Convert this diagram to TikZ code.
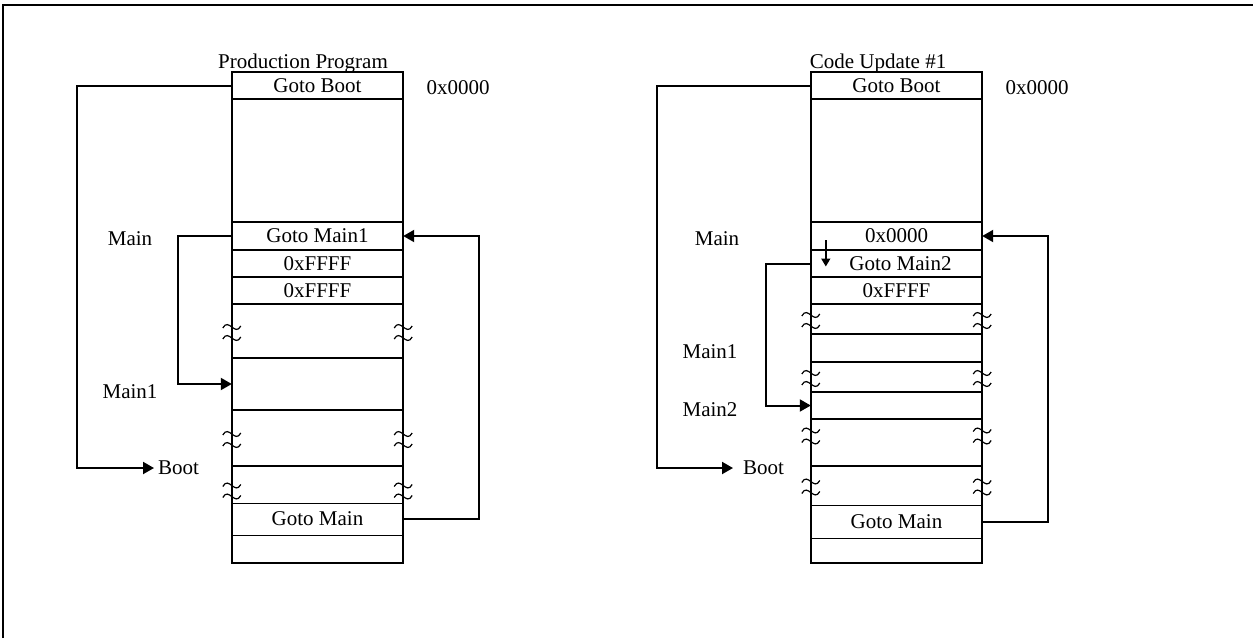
\documentclass[tikz,border=0pt]{standalone}
\usepackage{fontspec}
\setmainfont{Liberation Serif}
\usetikzlibrary{positioning, arrows.meta, calc}

\tikzset{
  cell/.style={minimum width=171pt, inner sep=0pt, font=\fontsize{21}{24}\selectfont},
  lbl/.style={inner sep=0pt, font=\fontsize{21}{24}\selectfont},
  wall/.style={line width=2.4pt},
  hair/.style={line width=1pt},
  jump/.style={line width=2pt, -{Triangle[length=11pt,width=12pt]}},
  nudge/.style={line width=1.6pt, -{Triangle[length=8pt,width=9pt]}},
  brk/.pic={
    \draw[line width=1.2pt] (-9,-3) .. controls (-3,-14) and (3,6) .. (9,-5);
    \draw[line width=1.2pt] (-9,8) .. controls (-3,-3) and (3,17) .. (9,6);
  }
}

\begin{document}
\begin{tikzpicture}[x=1pt, y=-1pt]
\useasboundingbox (0,0) rectangle (1253,638);
\draw[line width=2pt] (3,638) -- (3,5) -- (1253,5);

% production program
\node[lbl] (pTitle) at (303,63) {Production Program};
\node[cell, minimum height=27pt] (pBoot) at (317.5,85.5) {Goto Boot};
\node[cell, minimum height=123pt] (pGap) at (317.5,160.5) {};
\node[cell, minimum height=28pt] (pMain) at (317.5,236) {Goto Main1};
\node[cell, minimum height=27pt] (pF1) at (317.5,263.5) {0xFFFF};
\node[cell, minimum height=27pt] (pF2) at (317.5,290.5) {0xFFFF};
\node[cell, minimum height=54pt] (pB1) at (317.5,331) {};
\node[cell, minimum height=52pt] (pMainA) at (317.5,384) {};
\node[cell, minimum height=56pt] (pB2) at (317.5,438) {};
\node[cell, minimum height=37pt] (pB3) at (317.5,484.5) {};
\node[cell, minimum height=32pt] (pGoMain) at (317.5,519) {Goto Main};
\node[cell, minimum height=28pt] (pEnd) at (317.5,549) {};

\node[lbl] (pAddr) at (458,88) {0x0000};
\node[lbl] (pLMain) at (130,239) {Main};
\node[lbl] (pLMain1) at (130,392) {Main1};
\node[lbl, anchor=west, inner xsep=4pt] (pLBoot) at (154,468) {Boot};

\draw[wall] (pBoot.north west) rectangle (pEnd.south east);
\foreach \r in {pBoot,pGap,pMain,pF1,pF2,pB1,pMainA,pB2}
  \draw[wall] (\r.south west) -- (\r.south east);
\foreach \r in {pB3,pGoMain}
  \draw[hair] (\r.south west) -- (\r.south east);
\foreach \r in {pB1,pB2}
  {\pic at (\r.west) {brk}; \pic at (\r.east) {brk};}
\pic at ($(pB3.west)+(0,5)$) {brk};
\pic at ($(pB3.east)+(0,5)$) {brk};

\draw[jump] (pBoot.west) -- ++(-155,0) |- (pLBoot.west);
\draw[jump] (pMain.west) -- ++(-54,0) |- (pMainA.west);
\draw[jump] (pGoMain.east) -- ++(76,0) |- (pMain.east);

% code update #1
\node[lbl] (uTitle) at (878,63) {Code Update \#1};
\node[cell, minimum height=27pt] (uBoot) at (896.5,85.5) {Goto Boot};
\node[cell, minimum height=123pt] (uGap) at (896.5,160.5) {};
\node[cell, minimum height=28pt] (uMain) at (896.5,236) {0x0000};
\node[cell, minimum height=27pt] (uMain2) at (896.5,263.5) {\hspace{8pt}Goto Main2};
\node[cell, minimum height=27pt] (uF) at (896.5,290.5) {0xFFFF};
\node[cell, minimum height=30pt] (uB1) at (896.5,319) {};
\node[cell, minimum height=28pt] (uMain1T) at (896.5,348) {};
\node[cell, minimum height=30pt] (uB2) at (896.5,377) {};
\node[cell, minimum height=27pt] (uMain2T) at (896.5,405.5) {};
\node[cell, minimum height=47pt] (uB3) at (896.5,442.5) {};
\node[cell, minimum height=39pt] (uB4) at (896.5,485.5) {};
\node[cell, minimum height=33pt] (uGoMain) at (896.5,521.5) {Goto Main};
\node[cell, minimum height=25pt] (uEnd) at (896.5,550.5) {};

\node[lbl] (uAddr) at (1037,88) {0x0000};
\node[lbl] (uLMain) at (717,239) {Main};
\node[lbl] (uLMain1) at (710,352) {Main1};
\node[lbl] (uLMain2) at (710,410) {Main2};
\node[lbl, anchor=west, inner xsep=10pt] (uLBoot) at (733,468) {Boot};

\draw[wall] (uBoot.north west) rectangle (uEnd.south east);
\foreach \r in {uBoot,uGap,uMain,uMain2,uF,uB1,uMain1T,uB2,uMain2T,uB3}
  \draw[wall] (\r.south west) -- (\r.south east);
\foreach \r in {uB4,uGoMain}
  \draw[hair] (\r.south west) -- (\r.south east);
\foreach \r in {uB1,uB2,uB4}
  {\pic at (\r.west) {brk}; \pic at (\r.east) {brk};}
\pic at ($(uB3.west)+(0,-8)$) {brk};
\pic at ($(uB3.east)+(0,-8)$) {brk};

\draw[jump] (uBoot.west) -- ++(-154,0) |- (uLBoot.west);
\draw[jump] (uMain2.west) -- ++(-45,0) |- (uMain2T.west);
\draw[jump] (uGoMain.east) -- ++(66,0) |- (uMain.east);
\draw[nudge] ($(uMain.west)+(15,4)$) -- ($(uMain2.west)+(15,3)$);

\end{tikzpicture}
\end{document}
